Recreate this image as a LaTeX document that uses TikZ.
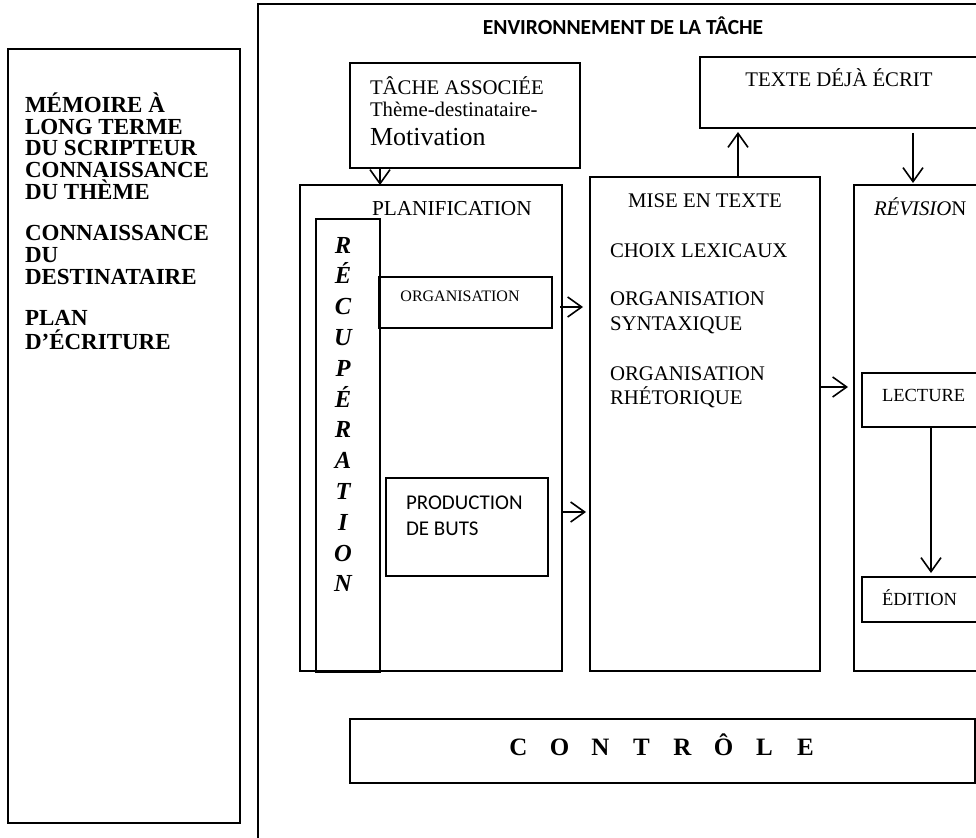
\documentclass[tikz,border=0pt]{standalone}
\usepackage{fontspec}
\setmainfont{Liberation Serif}
\newfontfamily\calfont{Carlito}
\usetikzlibrary{arrows.meta}
\begin{document}
\begin{tikzpicture}[x=1pt,y=-1pt,
  box/.style={draw=black, line width=1.1pt, inner sep=0pt, outer sep=0pt, anchor=north west},
  lab/.style={inner sep=0pt, outer sep=0pt},
  arr/.style={-{Straight Barb[length=14pt,width=20pt]}, line width=1.6pt},
  reg/.style={lab, font=\fontsize{20.8}{24}\selectfont},
  memf/.style={lab, anchor=base west, font=\bfseries\fontsize{23}{22}\selectfont}]
\useasboundingbox (0,0) rectangle (976,837);
\clip (0,0) rectangle (976,837);
\fill[white] (0,0) rectangle (976,837);

% boxes
\node[box, minimum width=232pt, minimum height=774pt] (mem) at (8,49) {};
\node[box, minimum width=800pt, minimum height=900pt] (env) at (258,4) {};
\node[box, minimum width=230pt, minimum height=105pt] (tache) at (350,63) {};
\node[box, minimum width=320pt, minimum height=71pt] (texte) at (700,57) {};
\node[box, minimum width=262pt, minimum height=486pt] (planif) at (300,185) {};
\node[box, minimum width=64pt, minimum height=453pt] (recup) at (316,219) {};
\node[box, minimum width=173pt, minimum height=51pt] (org) at (379,277) {};
\node[box, minimum width=162pt, minimum height=98pt] (prod) at (386,478) {};
\node[box, minimum width=230pt, minimum height=494pt] (mise) at (590,177) {};
\node[box, minimum width=200pt, minimum height=486pt] (revision) at (854,185) {};
\node[box, minimum width=200pt, minimum height=54pt] (lecture) at (862,373) {};
\node[box, minimum width=200pt, minimum height=45pt] (edition) at (862,577) {};
\node[box, minimum width=625pt, minimum height=64pt] (controle) at (350,719) {};

% left memory text
\foreach \yy/\tt [count=\i] in {112.6/MÉMOIRE À, 134.6/LONG TERME, 155.6/DU SCRIPTEUR,
  177.6/CONNAISSANCE, 199/DU THÈME, 240.6/CONNAISSANCE, 262.6/DU,
  284.6/DESTINATAIRE, 325.6/PLAN, 349.6/D’ÉCRITURE}
  \node[memf] (memt\i) at (25,\yy) {\tt};

% title
\node[lab, anchor=base, font=\calfont\bfseries\fontsize{21.5}{25}\selectfont] (title) at (623,35) {ENVIRONNEMENT DE LA TÂCHE};

% tache associee
\node[reg, anchor=base west] (tacheA) at (370,95) {TÂCHE ASSOCIÉE};
\node[reg, anchor=base west] (tacheB) at (370,117) {Thème-destinataire-};
\node[lab, anchor=base west, font=\fontsize{26}{30}\selectfont] (tacheC) at (370,146) {Motivation};

% texte deja ecrit
\node[reg, anchor=base] (texteT) at (839,87) {TEXTE DÉJÀ ÉCRIT};

% planification
\node[lab, anchor=base west, font=\fontsize{21.3}{25}\selectfont] (planT) at (372,215) {PLANIFICATION};
\foreach \l [count=\i from 0] in {R,É,C,U,P,É,R,A,T,I,O,N}
  \node[lab, anchor=base, font=\bfseries\itshape\fontsize{24.5}{28}\selectfont] (rc\i) at (343,{253+30.8*\i}) {\l};
\node[lab, anchor=base, font=\fontsize{16}{19}\selectfont] (orgT) at (460,301) {ORGANISATION};
\node[lab, anchor=base west, font=\calfont\fontsize{21}{26}\selectfont] (prodA) at (406,509) {PRODUCTION};
\node[lab, anchor=base west, font=\calfont\fontsize{21}{26}\selectfont] (prodB) at (406,535) {DE BUTS};

% mise en texte
\node[reg, anchor=base] (miseT) at (705,207) {MISE EN TEXTE};
\node[reg, anchor=base west] (miseA) at (610,257) {CHOIX LEXICAUX};
\node[reg, anchor=base west] (miseB) at (610,305) {ORGANISATION};
\node[reg, anchor=base west] (miseC) at (610,330) {SYNTAXIQUE};
\node[reg, anchor=base west] (miseD) at (610,380) {ORGANISATION};
\node[reg, anchor=base west] (miseE) at (610,404) {RHÉTORIQUE};

% revision
\node[reg, anchor=base west] (revT) at (874,215) {{\itshape RÉVISIO}N};
\node[lab, anchor=base west, font=\fontsize{18.5}{22}\selectfont] (lectT) at (882,401) {LECTURE};
\node[lab, anchor=base west, font=\fontsize{18.5}{22}\selectfont] (editT) at (882,605) {ÉDITION};

% controle
\node[lab, anchor=base, font=\bfseries\fontsize{25}{29}\selectfont] (ctlT) at (662,755)
  {\makebox[41pt]{C}\makebox[41pt]{O}\makebox[41pt]{N}\makebox[41pt]{T}\makebox[41pt]{R}\makebox[41pt]{Ô}\makebox[41pt]{L}\makebox[41pt]{E}};

% connector helper coordinates
\coordinate (ax1) at (738,0);
\coordinate (ax2) at (913,0);
\coordinate (ay3) at (0,387);
\coordinate (ax4) at (931,0);
\coordinate (ay5) at (0,307);
\coordinate (ay6) at (0,512);

% connectors
\draw[arr] (tache.south -| recup.east) -- (planif.north -| recup.east);
\draw[arr, shorten >=4pt] (mise.north -| ax1) -- (texte.south -| ax1);
\draw[arr, shorten <=5pt, shorten >=2pt] (texte.south -| ax2) -- (revision.north -| ax2);
\draw[arr, shorten >=6pt] (mise.east |- ay3) -- (revision.west |- ay3);
\draw[arr, shorten >=4pt] (lecture.south -| ax4) -- (edition.north -| ax4);
\draw[arr, shorten <=-2pt, shorten >=7pt] (planif.east |- ay5) -- (mise.west |- ay5);
\draw[arr, shorten >=4pt] (planif.east |- ay6) -- (mise.west |- ay6);
\end{tikzpicture}
\end{document}
